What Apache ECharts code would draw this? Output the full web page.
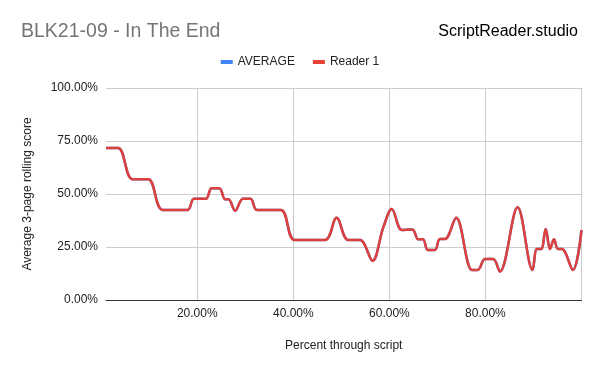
<!DOCTYPE html>
<html><head><meta charset="utf-8">
<script src="https://cdn.jsdelivr.net/npm/echarts@6/dist/echarts.min.js"></script>
<style>html,body{margin:0;padding:0;background:#fff}#c{width:600px;height:371px}</style>
</head><body><div id="c"></div>
<script>
const titleText = 'BLK21-09 - In The End';
const brandText = 'ScriptReader.studio';
const seriesNames = ['AVERAGE', 'Reader 1'];
const xTickValues = [20, 40, 60, 80];
const xGridValues = [20, 40, 60, 80, 100];
const pctThrough = [1.0, 3.56, 6.48, 9.8, 12.8, 18.0, 19.3, 21.8, 23.0, 24.6, 25.8, 26.5, 27.9, 29.5, 31.1, 32.4, 37.4, 40.3, 46.6, 49.0, 51.4, 53.9, 56.5, 58.7, 60.5, 62.6, 64.8, 66.0, 67.0, 68.0, 69.5, 70.5, 71.6, 73.9, 77.2, 78.4, 79.9, 81.6, 83.0, 86.7, 89.8, 90.7, 91.6, 92.55, 93.44, 94.27, 95.1, 95.94, 98.2, 100];
const rollingScore = [71.7, 71.7, 57.0, 57.0, 42.5, 42.5, 47.8, 47.8, 52.7, 52.7, 47.5, 47.5, 42.1, 47.8, 47.8, 42.5, 42.5, 28.3, 28.3, 38.8, 28.3, 28.3, 18.5, 34.0, 42.9, 33.0, 33.3, 28.6, 28.6, 23.6, 23.6, 28.8, 28.8, 38.8, 14.2, 14.2, 19.3, 19.3, 13.4, 43.7, 14.2, 24.0, 24.0, 33.5, 24.0, 28.6, 24.0, 24.0, 14.2, 33.0];
const averageScore = rollingScore.slice();

const pts = a => pctThrough.map((x, i) => [x, a[i]]);
const font = 'Liberation Sans, Arial, sans-serif';
const chart = echarts.init(document.getElementById('c'));
chart.setOption({
  animation: false,
  textStyle: { fontFamily: font },
  title: [
    { text: titleText, left: 16, top: 17, textStyle: { fontFamily: font, fontSize: 19.5, fontWeight: 'normal', color: '#757575' } },
    { text: brandText, right: 17, top: 19, textStyle: { fontFamily: font, fontSize: 16, fontWeight: 'normal', color: '#000' } }
  ],
  legend: {
    top: 51, left: 'center', icon: 'rect', itemWidth: 12, itemHeight: 4, itemGap: 18,
    textStyle: { fontFamily: font, fontSize: 12, color: '#222' },
    data: seriesNames
  },
  grid: { left: 106, right: 18.5, top: 88, bottom: 71, containLabel: false },
  xAxis: {
    type: 'value', min: 1, max: 100,
    name: 'Percent through script', nameLocation: 'middle', nameGap: 40,
    nameTextStyle: { fontFamily: font, fontSize: 12, color: '#222' },
    axisLine: { show: true, lineStyle: { color: '#333', width: 1 } },
    axisTick: { show: false, customValues: xGridValues },
    axisLabel: { customValues: xTickValues, color: '#222', fontSize: 12, margin: 8, formatter: v => v.toFixed(2) + '%' },
    splitLine: { show: true, lineStyle: { color: '#cccccc', width: 1 } }
  },
  yAxis: {
    type: 'value', min: 0, max: 100, interval: 25,
    name: 'Average 3-page rolling score', nameLocation: 'middle', nameGap: 72,
    nameTextStyle: { fontFamily: font, fontSize: 12, color: '#222' },
    axisLine: { show: false }, axisTick: { show: false },
    axisLabel: { color: '#222', fontSize: 12, margin: 8, formatter: v => v.toFixed(2) + '%' },
    splitLine: { show: true, lineStyle: { color: '#cccccc', width: 1 } }
  },
  series: [
    { name: seriesNames[0], type: 'line', data: pts(averageScore), smooth: 0.35, showSymbol: false,
      lineStyle: { color: '#4285F4', width: 2.5 }, itemStyle: { color: '#4285F4' } },
    { name: seriesNames[1], type: 'line', data: pts(rollingScore), smooth: 0.35, showSymbol: false,
      lineStyle: { color: '#E0403A', width: 2.5 }, itemStyle: { color: '#EA4335' } }
  ]
});
</script></body></html>
